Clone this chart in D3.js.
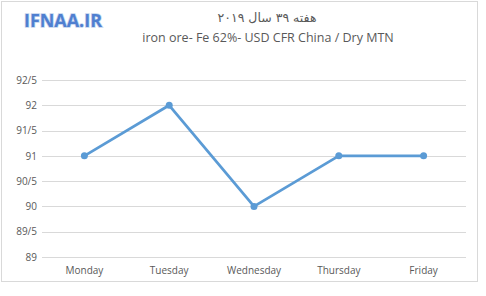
<!DOCTYPE html>
<html>
<head>
<meta charset="utf-8">
<script src="https://cdn.jsdelivr.net/npm/d3@7"></script>
<style>
  body { margin: 0; background: #fff; }
  svg { display: block; }
</style>
</head>
<body>
<script>
const w = 486
const h = 296

const days = ['Monday', 'Tuesday', 'Wednesday', 'Thursday', 'Friday']
const prices = [91, 92, 90, 91, 91]
const yTicks = [89, 89.5, 90, 90.5, 91, 91.5, 92, 92.5]
const yTickLabels = ['89', '89/5', '90', '90/5', '91', '91/5', '92', '92/5']

const titleFa = 'هفته ۳۹ سال ۲۰۱۹'
const titleEn = 'iron ore- Fe 62%- USD CFR China / Dry MTN'
const logo = 'IFNAA.IR'

const font = "'Open Sans', 'Liberation Sans', sans-serif"

const svg = d3.select('body').append('svg')
  .attr('width', w)
  .attr('height', h)

// chart border
svg.append('rect')
  .attr('x', 1.5).attr('y', 1.5)
  .attr('width', 476).attr('height', 280)
  .attr('fill', '#fff')
  .attr('stroke', '#d9d9d9')

// scales
const x = d3.scaleBand().domain(days).range([42, 466])
const y = d3.scaleLinear().domain([89, 92.5]).range([257, 80])

// gridlines
svg.append('g')
  .selectAll('line')
  .data(yTicks)
  .enter()
  .append('line')
  .attr('x1', 42).attr('x2', 466)
  .attr('y1', d => Math.round(y(d)) + 0.5)
  .attr('y2', d => Math.round(y(d)) + 0.5)
  .attr('stroke', '#d9d9d9')
  .attr('stroke-width', 1)

// y axis labels
const yAxis = d3.axisLeft(y)
  .tickValues(yTicks)
  .tickSize(0)
  .tickPadding(5)
  .tickFormat((d, i) => yTickLabels[i])
const gy = svg.append('g').attr('transform', 'translate(42,0)').call(yAxis)
gy.select('.domain').remove()
gy.selectAll('text')
  .attr('fill', '#595959')
  .style('font-family', font)
  .style('font-size', '10px')

// x axis labels
const xAxis = d3.axisBottom(x).tickSize(0).tickPadding(10)
const gx = svg.append('g').attr('transform', 'translate(0,257)').call(xAxis)
gx.select('.domain').remove()
gx.selectAll('text')
  .attr('fill', '#595959')
  .style('font-family', font)
  .style('font-size', '10px')

// line
const cx = (d, i) => x(days[i]) + x.bandwidth() / 2
const line = d3.line()
  .x((d, i) => cx(d, i))
  .y(d => y(d))

svg.append('path')
  .datum(prices)
  .attr('d', line)
  .attr('fill', 'none')
  .attr('stroke', '#5b9bd5')
  .attr('stroke-width', 2.75)
  .attr('stroke-linejoin', 'round')

svg.selectAll('circle')
  .data(prices)
  .enter()
  .append('circle')
  .attr('cx', (d, i) => cx(d, i))
  .attr('cy', d => y(d))
  .attr('r', 3.5)
  .attr('fill', '#5b9bd5')

// titles
svg.append('text')
  .attr('x', 267).attr('y', 22)
  .attr('text-anchor', 'middle')
  .attr('fill', '#595959')
  .style('font-family', "'DejaVu Sans', sans-serif")
  .style('font-size', '12.5px')
  .text(titleFa)

svg.append('text')
  .attr('x', 268).attr('y', 42)
  .attr('text-anchor', 'middle')
  .attr('fill', '#595959')
  .style('font-family', font)
  .style('font-size', '12.5px')
  .text(titleEn)

// logo
svg.append('text')
  .attr('x', 63).attr('y', 27)
  .attr('text-anchor', 'middle')
  .attr('fill', '#4f7fd0')
  .attr('stroke', '#c5d5ee')
  .attr('stroke-width', 1.5)
  .attr('paint-order', 'stroke')
  .attr('textLength', 78)
  .attr('lengthAdjust', 'spacingAndGlyphs')
  .style('font-family', font)
  .style('font-weight', 'bold')
  .style('font-size', '17px')
  .text(logo)
</script>
</body>
</html>
